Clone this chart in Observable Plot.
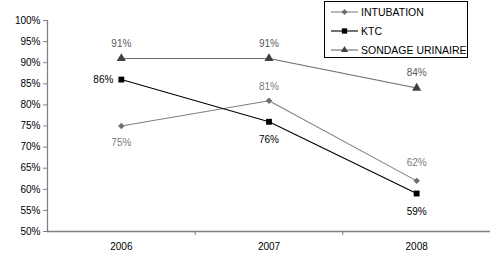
<!DOCTYPE html>
<html><head><meta charset="utf-8">
<script src="https://cdn.jsdelivr.net/npm/d3@7"></script>
<script src="https://cdn.jsdelivr.net/npm/@observablehq/plot@0.6"></script>
<style>
body{margin:0;background:#fff;font-family:"Liberation Sans",Arial,sans-serif}
#c{position:relative;width:490px;height:267px;overflow:hidden}
#legend{position:absolute;left:324px;top:1px;width:142px;height:55px;border:1px solid #000;background:#fff;font-size:10.5px;color:#000}
#legend .row{position:absolute;left:0;height:14px;display:flex;align-items:center;white-space:nowrap}
#legend svg{display:block;margin-left:6px;margin-right:3px}
</style>
</head><body><div id="c"></div>
<script>
const years = [2006, 2007, 2008];
const seriesNames = ["INTUBATION", "KTC", "SONDAGE URINAIRE"];
const intubation = [0.75, 0.81, 0.62];
const ktc = [0.86, 0.76, 0.59];
const sondage = [0.91, 0.91, 0.84];
const yTicks = [0.50, 0.55, 0.60, 0.65, 0.70, 0.75, 0.80, 0.85, 0.90, 0.95, 1.00];

const valuesBySeries = [intubation, ktc, sondage];
const rows = [];
seriesNames.forEach((s, si) => years.forEach((yr, i) => rows.push({series: s, year: yr, value: valuesBySeries[si][i], idx: i})));

const styles = {
  "INTUBATION": {line: "#808080", marker: "#6e6e6e", symbol: "diamond2", r: 2.9, label: "#7a7a7a"},
  "KTC": {line: "#000000", marker: "#000000", symbol: "square", r: 3.3, label: "#000000"},
  "SONDAGE URINAIRE": {line: "#6a6a6a", marker: "#404040", symbol: "triangle", r: 3.4, label: "#5a5a5a"}
};
const boundaries = years.slice(1).map((y, i) => (y + years[i]) / 2);
const fmt = d3.format(".0%");

const marks = [
  Plot.ruleY([yTicks[0]], {stroke: "#808080", strokeWidth: 1.6}),
  Plot.ruleX([years[0] - 0.5], {stroke: "#808080", strokeWidth: 1.3}),
  Plot.axisY({ticks: yTicks, tickSize: 4, tickFormat: () => "", stroke: "#808080", label: null}),
  Plot.axisY({ticks: yTicks, tickSize: 0, tickPadding: 7, tickFormat: fmt, fill: "#000", label: null}),
  Plot.axisX({ticks: boundaries, tickSize: 4, tickFormat: () => "", stroke: "#808080", label: null}),
  Plot.axisX({ticks: years, tickSize: 0, tickPadding: 11, tickFormat: d => String(d), fill: "#000", label: null})
];
for (const s of seriesNames) {
  const st = styles[s];
  const data = rows.filter(d => d.series === s);
  marks.push(Plot.line(data, {x: "year", y: "value", stroke: st.line, strokeWidth: 1.1}));
  marks.push(Plot.dot(data, {x: "year", y: "value", symbol: () => st.symbol, fill: st.marker, stroke: "none", r: st.r}));
}
// labels
const lab = (s, filter, opts) => Plot.text(rows.filter(d => d.series === s && filter(d)), {x: "year", y: "value", text: d => fmt(d.value), fill: styles[s].label, ...opts});
marks.push(lab("INTUBATION", d => d.idx === 0, {dy: 17}));
marks.push(lab("INTUBATION", d => d.idx === 1, {dy: -14}));
marks.push(lab("INTUBATION", d => d.idx === 2, {dy: -18}));
marks.push(lab("KTC", d => d.idx === 0, {dx: -8, textAnchor: "end"}));
marks.push(lab("KTC", d => d.idx > 0, {dy: 18}));
marks.push(lab("SONDAGE URINAIRE", d => true, {dy: -15}));

const plot = Plot.plot({
  width: 490, height: 267,
  marginLeft: 47, marginRight: 0, marginTop: 20, marginBottom: 36,
  style: {fontFamily: "'Liberation Sans', Arial, sans-serif", fontSize: "10px", background: "white", color: "#000", overflow: "visible"},
  x: {domain: [years[0] - 0.5, years[years.length - 1] + 0.5], axis: null},
  y: {domain: [yTicks[0], yTicks[yTicks.length - 1]], axis: null},
  marks
});
const c = document.getElementById("c");
c.appendChild(plot);

// legend overlay
const leg = document.createElement("div");
leg.id = "legend";
const symPath = {diamond2: d3.symbolSquare, square: d3.symbolSquare2, triangle: d3.symbolTriangle2};
seriesNames.forEach((s, i) => {
  const st = styles[s];
  const row = document.createElement("div");
  row.className = "row";
  row.style.top = (3 + i * 19) + "px";
  const svg = d3.create("svg").attr("width", 27).attr("height", 14);
  svg.append("line").attr("x1", 0).attr("x2", 27).attr("y1", 7).attr("y2", 7).attr("stroke", st.line).attr("stroke-width", 1.1);
  const p = svg.append("path").attr("d", d3.symbol(symPath[st.symbol], st.symbol === "diamond2" ? 18 : 36)()).attr("fill", st.marker);
  p.attr("transform", st.symbol === "diamond2" ? "translate(13.5,7) rotate(45)" : "translate(13.5,7)");
  row.appendChild(svg.node());
  const t = document.createElement("span");
  t.textContent = s;
  row.appendChild(t);
  leg.appendChild(row);
});
c.appendChild(leg);
</script>
</body></html>
